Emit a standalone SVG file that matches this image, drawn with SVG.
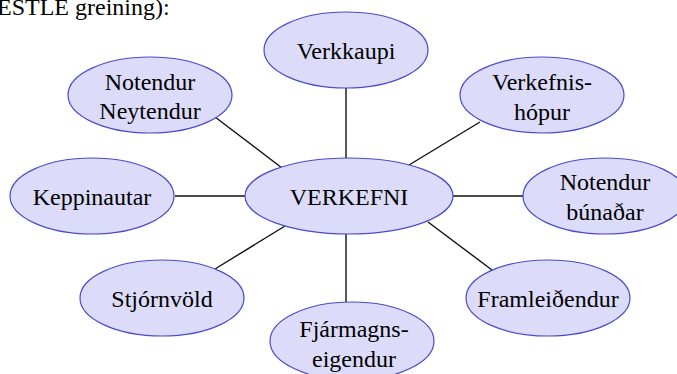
<svg xmlns="http://www.w3.org/2000/svg" width="677" height="374" viewBox="0 0 677 374">
<rect width="677" height="374" fill="#fff"/>
<text font-family="Times New Roman, Liberation Serif, Tinos, serif" font-size="24" x="-3" y="15">ESTLE greining):</text>
<g id="connectors" stroke="#111" stroke-width="1.4">
<line x1="346" y1="88" x2="346" y2="158"/>
<line x1="215" y1="117" x2="282" y2="168"/>
<line x1="480" y1="122" x2="409" y2="165"/>
<line x1="175" y1="196" x2="245" y2="196"/>
<line x1="453" y1="196" x2="523" y2="196"/>
<line x1="285" y1="226" x2="215" y2="269"/>
<line x1="428" y1="222" x2="492" y2="270"/>
<line x1="346" y1="234" x2="346" y2="302"/>
</g>
<g id="nodes">
<g id="verkkaupi"><ellipse cx="346" cy="50" rx="82" ry="38" fill="#dcdcfa" stroke="#4a4acc" stroke-width="1.2"/><text font-family="Times New Roman, Liberation Serif, Tinos, serif" font-size="24" text-anchor="middle" x="346" y="59">Verkkaupi</text></g>
<g id="notendur-neytendur"><ellipse cx="150" cy="95" rx="82" ry="38" fill="#dcdcfa" stroke="#4a4acc" stroke-width="1.2"/><text font-family="Times New Roman, Liberation Serif, Tinos, serif" font-size="24" text-anchor="middle" x="150" y="90">Notendur</text><text font-family="Times New Roman, Liberation Serif, Tinos, serif" font-size="24" text-anchor="middle" x="150" y="119">Neytendur</text></g>
<g id="verkefnishopur"><ellipse cx="542" cy="95" rx="82" ry="38" fill="#dcdcfa" stroke="#4a4acc" stroke-width="1.2"/><text font-family="Times New Roman, Liberation Serif, Tinos, serif" font-size="24" text-anchor="middle" x="542" y="90">Verkefnis-</text><text font-family="Times New Roman, Liberation Serif, Tinos, serif" font-size="24" text-anchor="middle" x="542" y="120">h&#243;pur</text></g>
<g id="keppinautar"><ellipse cx="92" cy="196" rx="82" ry="38" fill="#dcdcfa" stroke="#4a4acc" stroke-width="1.2"/><text font-family="Times New Roman, Liberation Serif, Tinos, serif" font-size="24" text-anchor="middle" x="92" y="205">Keppinautar</text></g>
<g id="verkefni"><ellipse cx="349" cy="196" rx="104" ry="38" fill="#dcdcfa" stroke="#4a4acc" stroke-width="1.2"/><text font-family="Times New Roman, Liberation Serif, Tinos, serif" font-size="24" text-anchor="middle" x="349" y="205">VERKEFNI</text></g>
<g id="notendur-bunadar"><ellipse cx="605" cy="196" rx="82" ry="38" fill="#dcdcfa" stroke="#4a4acc" stroke-width="1.2"/><text font-family="Times New Roman, Liberation Serif, Tinos, serif" font-size="24" text-anchor="middle" x="605" y="190">Notendur</text><text font-family="Times New Roman, Liberation Serif, Tinos, serif" font-size="24" text-anchor="middle" x="605" y="220">b&#250;na&#240;ar</text></g>
<g id="stjornvold"><ellipse cx="162" cy="298" rx="82" ry="38" fill="#dcdcfa" stroke="#4a4acc" stroke-width="1.2"/><text font-family="Times New Roman, Liberation Serif, Tinos, serif" font-size="24" text-anchor="middle" x="162" y="307">Stj&#243;rnv&#246;ld</text></g>
<g id="framleidendur"><ellipse cx="548" cy="298" rx="82" ry="38" fill="#dcdcfa" stroke="#4a4acc" stroke-width="1.2"/><text font-family="Times New Roman, Liberation Serif, Tinos, serif" font-size="24" text-anchor="middle" x="548" y="307">Framlei&#240;endur</text></g>
<g id="fjarmagnseigendur"><ellipse cx="352" cy="341" rx="82" ry="39" fill="#dcdcfa" stroke="#4a4acc" stroke-width="1.2"/><text font-family="Times New Roman, Liberation Serif, Tinos, serif" font-size="24" text-anchor="middle" x="354" y="337">Fj&#225;rmagns-</text><text font-family="Times New Roman, Liberation Serif, Tinos, serif" font-size="24" text-anchor="middle" x="354" y="367">eigendur</text></g>
</g>
</svg>
